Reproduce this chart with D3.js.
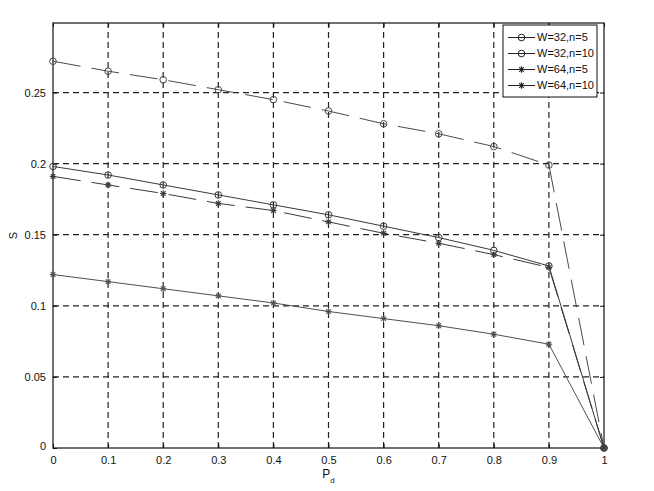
<!DOCTYPE html>
<html>
<head>
<meta charset="utf-8">
<script src="https://cdn.jsdelivr.net/npm/d3@7"></script>
<style>
  html, body { margin: 0; padding: 0; background: #fff; }
  svg { display: block; }
  text { font-family: "Liberation Sans", Arial, sans-serif; fill: #111; }
</style>
</head>
<body>
<svg id="chart" width="654" height="491"></svg>
<script>
// ---- data ----
const pd = [0, 0.1, 0.2, 0.3, 0.4, 0.5, 0.6, 0.7, 0.8, 0.9, 1];
const seriesNames = ["W=32,n=5", "W=32,n=10", "W=64,n=5", "W=64,n=10"];
const w32n5  = [0.198, 0.192, 0.185, 0.178, 0.171, 0.164, 0.156, 0.148, 0.139, 0.128, 0];
const w32n10 = [0.272, 0.265, 0.259, 0.252, 0.245, 0.237, 0.228, 0.221, 0.212, 0.199, 0];
const w64n5  = [0.122, 0.117, 0.112, 0.107, 0.102, 0.096, 0.091, 0.086, 0.080, 0.073, 0];
const w64n10 = [0.191, 0.185, 0.179, 0.172, 0.167, 0.159, 0.151, 0.144, 0.136, 0.127, 0];
const xTicks = [0, 0.1, 0.2, 0.3, 0.4, 0.5, 0.6, 0.7, 0.8, 0.9, 1];
const xTickLabels = ["0", "0.1", "0.2", "0.3", "0.4", "0.5", "0.6", "0.7", "0.8", "0.9", "1"];
const yTicks = [0, 0.05, 0.1, 0.15, 0.2, 0.25];
const yTickLabels = ["0", "0.05", "0.1", "0.15", "0.2", "0.25"];
const xLabel = "P";
const xLabelSub = "d";
const yLabel = "S";

// ---- layout ----
const L = 53, R = 604, T = 23, B = 448;
const svg = d3.select("#chart");
const x = d3.scaleLinear().domain([0, 1]).range([L, R]);
const y = d3.scaleLinear().domain([0, 0.2989]).range([B, T]);

// grid
const grid = svg.append("g");
grid.selectAll("line.vx").data(xTicks.filter(v => v > 0 && v < 1)).enter().append("line")
  .attr("x1", d => x(d)).attr("x2", d => x(d)).attr("y1", B).attr("y2", T)
  .attr("stroke", "#222").attr("stroke-width", 1.2).attr("stroke-dasharray", "6,4");
grid.selectAll("line.hy").data(yTicks.filter(v => v > 0)).enter().append("line")
  .attr("x1", L).attr("x2", R).attr("y1", d => y(d)).attr("y2", d => y(d))
  .attr("stroke", "#222").attr("stroke-width", 1.2).attr("stroke-dasharray", "6,4");

// axes
const xAxis = d3.axisBottom(x).tickValues(xTicks).tickSize(-4).tickPadding(8)
  .tickFormat((d, i) => xTickLabels[i]);
const gx = svg.append("g").attr("transform", `translate(0,${B})`).call(xAxis);
const yAxis = d3.axisLeft(y).tickValues(yTicks).tickSize(-4).tickPadding(7)
  .tickFormat((d, i) => yTickLabels[i]);
const gy = svg.append("g").attr("transform", `translate(${L},0)`).call(yAxis);
[gx, gy].forEach(g => {
  g.select(".domain").remove();
  g.selectAll("line").attr("stroke", "#111");
  g.selectAll("text").style("font-size", "11px").style("font-family", '"Liberation Sans", Arial, sans-serif').attr("fill", "#111");
});
gy.selectAll(".tick").filter(d => d === 0).select("text").attr("dy", "0.1em");
// top/right ticks
const gt = svg.append("g").attr("transform", `translate(0,${T})`).call(d3.axisTop(x).tickValues(xTicks).tickSize(-4).tickFormat(""));
const gr = svg.append("g").attr("transform", `translate(${R},0)`).call(d3.axisRight(y).tickValues(yTicks).tickSize(-4).tickFormat(""));
[gt, gr].forEach(g => { g.select(".domain").remove(); g.selectAll("line").attr("stroke", "#111"); });

// frame
svg.append("rect").attr("x", L).attr("y", T).attr("width", R - L).attr("height", B - T)
  .attr("fill", "none").attr("stroke", "#111").attr("stroke-width", 1.2);

// series
const series = [
  { name: seriesNames[0], vals: w32n5,  marker: "circle", dash: null,    color: "#3a3a3a" },
  { name: seriesNames[1], vals: w32n10, marker: "circle", dash: "28,11", color: "#4a4a4a" },
  { name: seriesNames[2], vals: w64n5,  marker: "star",   dash: null,    color: "#505050" },
  { name: seriesNames[3], vals: w64n10, marker: "star",   dash: "28,11", color: "#3a3a3a" }
];
const line = d3.line().x(d => x(d[0])).y(d => y(d[1]));

function drawMarker(g, type, cx, cy, color) {
  if (type === "circle") {
    g.append("circle").attr("cx", cx).attr("cy", cy).attr("r", 3.3)
      .attr("fill", "none").attr("stroke", color).attr("stroke-width", 1);
  } else {
    const s = 3.2, d2 = 2.3;
    const segs = [[0, -s, 0, s], [-s, 0, s, 0], [-d2, -d2, d2, d2], [-d2, d2, d2, -d2]];
    segs.forEach(p => g.append("line")
      .attr("x1", cx + p[0]).attr("y1", cy + p[1]).attr("x2", cx + p[2]).attr("y2", cy + p[3])
      .attr("stroke", color).attr("stroke-width", 1.1));
  }
}

series.forEach(s => {
  const pts = pd.map((p, i) => [p, s.vals[i]]);
  const g = svg.append("g");
  g.append("path").attr("d", line(pts)).attr("fill", "none")
    .attr("stroke", s.color).attr("stroke-width", 1)
    .attr("stroke-dasharray", s.dash);
  pts.forEach(p => drawMarker(g, s.marker, x(p[0]), y(p[1]), s.color));
});

// legend
const lg = svg.append("g");
const lx = 503, ly = 25, lw = 94, lh = 72;
lg.append("rect").attr("x", lx).attr("y", ly).attr("width", lw).attr("height", lh)
  .attr("fill", "#fff").attr("stroke", "#111").attr("stroke-width", 1);
series.forEach((s, i) => {
  const yy = 37.5 + i * 16;
  lg.append("line").attr("x1", 508).attr("x2", 535).attr("y1", yy).attr("y2", yy)
    .attr("stroke", "#222").attr("stroke-width", 1);
  drawMarker(lg, s.marker, 521.5, yy, "#222");
  lg.append("text").attr("x", 537).attr("y", yy).attr("dy", "0.35em")
    .style("font-size", "11px").text(s.name);
});

// axis labels
const xl = svg.append("text").attr("x", x(0.5)).attr("y", 478).attr("text-anchor", "middle")
  .style("font-size", "12px");
xl.append("tspan").text(xLabel);
xl.append("tspan").attr("dy", 5).style("font-size", "8px").text(xLabelSub);
svg.append("text").attr("transform", `translate(17,${(T + B) / 2}) rotate(-90)`)
  .attr("text-anchor", "middle").style("font-size", "11px").text(yLabel);
</script>
</body>
</html>
